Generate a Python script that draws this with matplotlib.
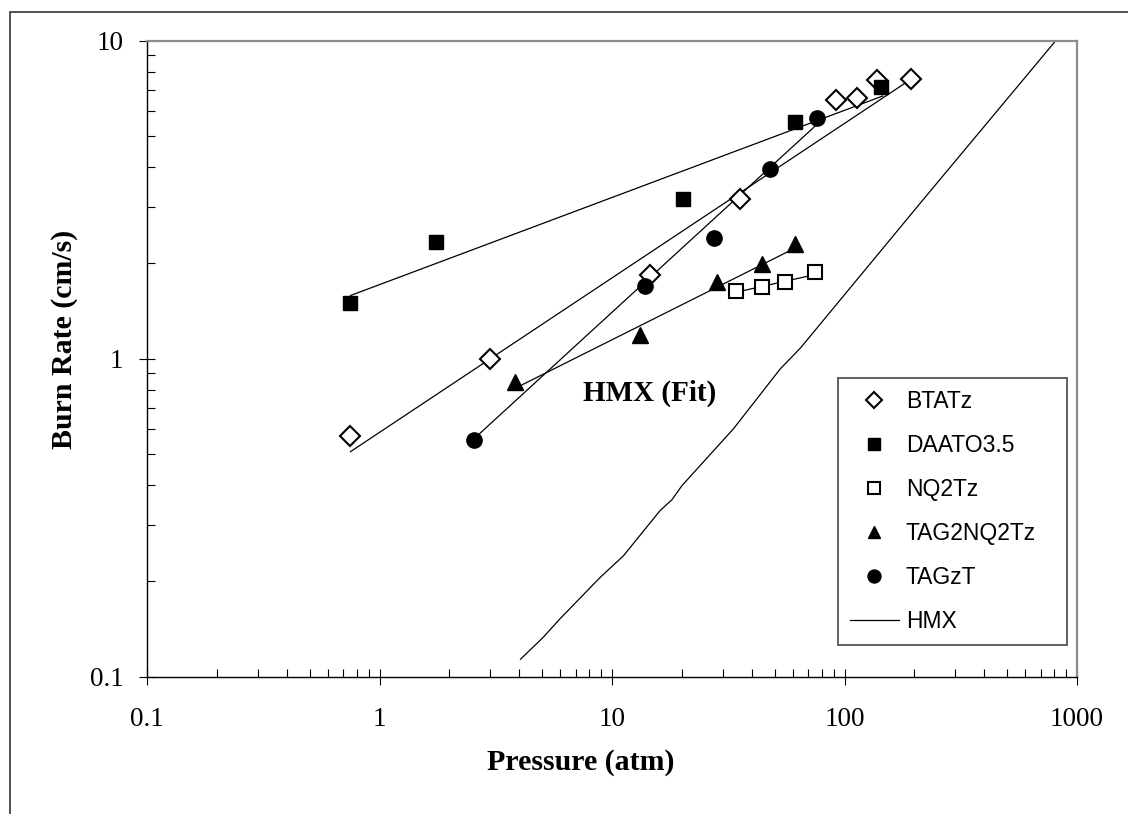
import matplotlib
matplotlib.use("Agg")
import matplotlib.pyplot as plt
import matplotlib.patches as patches
from matplotlib.ticker import NullFormatter, LogLocator

# Burn rate data (pressure in atm, rate in cm/s)
btatz_p = [0.75, 3.0, 14.6, 35.6, 92, 113, 138, 194]
btatz_r = [0.57, 1.0, 1.83, 3.17, 6.5, 6.6, 7.5, 7.6]
btatz_fit_p = [0.75, 195]
btatz_fit_r = [0.51, 7.6]

daato_p = [0.75, 1.75, 20.3, 61, 143]
daato_r = [1.50, 2.32, 3.17, 5.54, 7.17]
daato_fit_p = [0.75, 146]
daato_fit_r = [1.58, 6.7]

nq2tz_p = [34.2, 44.2, 55.3, 75]
nq2tz_r = [1.63, 1.68, 1.74, 1.87]
nq2tz_fit_p = [34.4, 75]
nq2tz_fit_r = [1.62, 1.84]

tag2_p = [3.82, 13.2, 28.3, 44.2, 61.5]
tag2_r = [0.845, 1.19, 1.74, 1.98, 2.29]
tag2_fit_p = [4.0, 58.5]
tag2_fit_r = [0.82, 2.19]

tagzt_p = [2.54, 13.9, 27.5, 48, 76.3]
tagzt_r = [0.557, 1.69, 2.40, 3.95, 5.73]
tagzt_fit_p = [2.55, 75]
tagzt_fit_r = [0.56, 5.4]

hmx_p = [4.04, 5.06, 5.97, 8.88, 11.2, 16.1, 18.1, 20.0, 33.3, 53, 64.6, 220, 810]
hmx_r = [0.1135, 0.133, 0.152, 0.205, 0.240, 0.333, 0.360, 0.399, 0.602, 0.93, 1.08, 3.19, 10.0]

x_ticks = [0.1, 1, 10, 100, 1000]
x_labels = ["0.1", "1", "10", "100", "1000"]
y_ticks = [0.1, 1, 10]
y_labels = ["0.1", "1", "10"]

serif = "Liberation Serif"
sans = "Liberation Sans"

fig = plt.figure(figsize=(11.28, 8.14), dpi=100)
ax = fig.add_axes([147 / 1128, 1 - 676.7 / 814, 930 / 1128, 636 / 814])

# outer chart frame (runs off the right and bottom edge)
fig.patches.append(patches.Rectangle((9.5 / 1128, -0.1), 1.2, 1.1 - 12.3 / 814,
                                     transform=fig.transFigure, fill=False,
                                     edgecolor="#333333", lw=1.2))

# fit lines
for fp, fr in [(btatz_fit_p, btatz_fit_r), (daato_fit_p, daato_fit_r),
               (nq2tz_fit_p, nq2tz_fit_r), (tag2_fit_p, tag2_fit_r),
               (tagzt_fit_p, tagzt_fit_r)]:
    ax.plot(fp, fr, color="black", lw=0.9)

# data markers
ax.plot(btatz_p, btatz_r, ls="none", marker="D", ms=10, mfc="white", mec="black",
        mew=1.5, label="BTATz")
ax.plot(daato_p, daato_r, ls="none", marker="s", ms=10.5, mfc="black", mec="black",
        label="DAATO3.5")
ax.plot(nq2tz_p, nq2tz_r, ls="none", marker="s", ms=9.5, mfc="white", mec="black",
        mew=1.5, label="NQ2Tz")
ax.plot(tag2_p, tag2_r, ls="none", marker="^", ms=11, mfc="black", mec="black",
        label="TAG2NQ2Tz")
ax.plot(tagzt_p, tagzt_r, ls="none", marker="o", ms=11, mfc="black", mec="black",
        label="TAGzT")
ax.plot(hmx_p, hmx_r, color="black", lw=0.9, label="HMX")

ax.set_xscale("log")
ax.set_yscale("log")
ax.set_xlim(0.1, 1000)
ax.set_ylim(0.1, 10)

ax.set_xticks(x_ticks)
ax.set_xticklabels(x_labels, fontfamily=serif, fontsize=19.5)
ax.set_yticks(y_ticks)
ax.set_yticklabels(y_labels, fontfamily=serif, fontsize=19.5)
ax.xaxis.set_minor_locator(LogLocator(base=10, subs=range(2, 10)))
ax.yaxis.set_minor_locator(LogLocator(base=10, subs=range(2, 10)))
ax.xaxis.set_minor_formatter(NullFormatter())
ax.yaxis.set_minor_formatter(NullFormatter())

ax.tick_params(which="major", direction="inout", length=12, width=0.8, colors="black")
ax.tick_params(which="minor", direction="in", length=6, width=0.8)
ax.tick_params(axis="x", which="major", pad=16)
ax.tick_params(axis="y", which="major", pad=11)

for s in ["left", "bottom"]:
    ax.spines[s].set_color("black")
    ax.spines[s].set_linewidth(1.0)
for s in ["top", "right"]:
    ax.spines[s].set_color("#8c8c8c")
    ax.spines[s].set_linewidth(1.6)

fig.text(581 / 1128, 1 - 762 / 814, "Pressure (atm)", fontfamily=serif,
         fontweight="bold", fontsize=21.5, ha="center", va="center")
fig.text(65 / 1128, 1 - 339 / 814, "Burn Rate (cm/s)", fontfamily=serif,
         fontweight="bold", fontsize=21.5, ha="center", va="center", rotation=90)

ax.text(14.5, 0.78, "HMX (Fit)", fontfamily=serif, fontweight="bold",
        fontsize=21, ha="center", va="center")

leg = ax.legend(loc="upper left", bbox_to_anchor=(0.7434, 0.0514, 0.2455, 0.4178),
                mode="expand", borderaxespad=0, borderpad=0.5, labelspacing=0.92,
                handlelength=2.15, handletextpad=0.3, markerscale=0.85,
                fancybox=False, framealpha=1, edgecolor="#555555",
                prop={"family": sans, "size": 16.5})
leg.get_frame().set_linewidth(1.3)

fig.savefig("out.png", dpi=100, facecolor="white")
